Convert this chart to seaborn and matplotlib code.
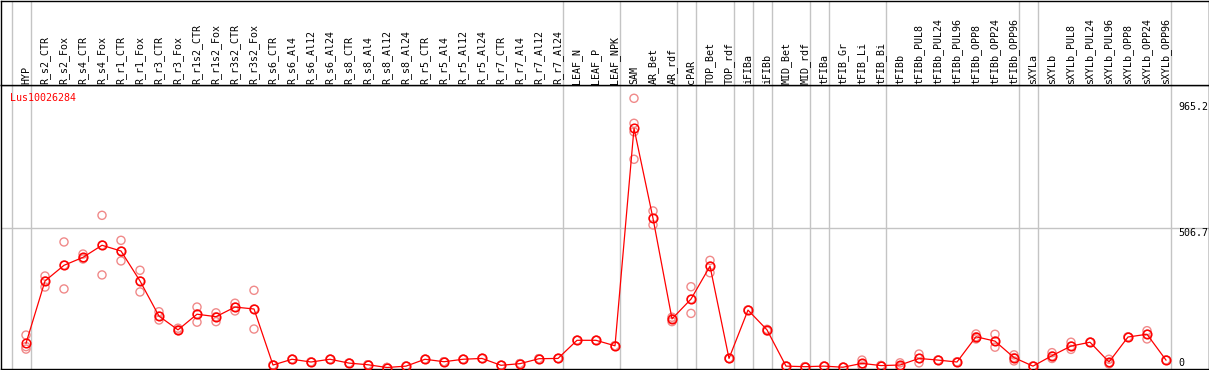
import matplotlib
matplotlib.use("Agg")
import matplotlib.pyplot as plt
import seaborn as sns
import numpy as np
import pandas as pd
from matplotlib.lines import Line2D

gene = "Lus10026284"

samples = ["HYP", "R_s2_CTR", "R_s2_Fox", "R_s4_CTR", "R_s4_Fox", "R_r1_CTR", "R_r1_Fox",
           "R_r3_CTR", "R_r3_Fox", "R_r1s2_CTR", "R_r1s2_Fox", "R_r3s2_CTR", "R_r3s2_Fox",
           "R_s6_CTR", "R_s6_Al4", "R_s6_Al12", "R_s6_Al24", "R_s8_CTR", "R_s8_Al4", "R_s8_Al12",
           "R_s8_Al24", "R_r5_CTR", "R_r5_Al4", "R_r5_Al12", "R_r5_Al24", "R_r7_CTR", "R_r7_Al4",
           "R_r7_Al12", "R_r7_Al24", "LEAF_N", "LEAF_P", "LEAF_NPK", "SAM", "AR_Bet", "AR_rdf",
           "cPAR", "TOP_Bet", "TOP_rdf", "iFIBa", "iFIBb", "MID_Bet", "MID_rdf", "tFIBa",
           "tFIB_Gr", "tFIB_Li", "tFIB_Bi", "tFIBb", "tFIBb_PUL8", "tFIBb_PUL24", "tFIBb_PUL96",
           "tFIBb_OPP8", "tFIBb_OPP24", "tFIBb_OPP96", "sXYLa", "sXYLb", "sXYLb_PUL8",
           "sXYLb_PUL24", "sXYLb_PUL96", "sXYLb_OPP8", "sXYLb_OPP24", "sXYLb_OPP96"]

means = [88, 315, 372, 401, 445, 424, 315, 187, 137, 194, 185, 220, 213,
         9, 30, 20, 30, 16, 10, 0, 5, 30, 21, 30, 33, 8, 14, 32, 33,
         99, 99, 79, 871, 543, 177, 249, 369, 33, 209, 137, 5, 3, 5,
         1, 15, 7, 9, 33, 27, 20, 112, 96, 36, 5, 43, 78, 92, 20, 111, 121, 27]

replicates = [
    [118, 76, 67], [333, 315, 293], [457, 373, 286], [413, 398, 395], [554, 446, 337],
    [463, 424, 388], [354, 315, 275], [203, 187, 173], [143, 137, 134], [220, 195, 165],
    [199, 185, 167], [234, 220, 206], [281, 213, 140],
    [9, 9, 9], [30, 30, 30], [20, 20, 20], [30, 30, 30], [16, 16, 16], [10, 10, 10],
    [0, 0, 0], [5, 5, 5], [30, 30, 30], [21, 21, 21], [30, 30, 30], [33, 33, 33],
    [8, 8, 8], [14, 14, 14], [32, 32, 32], [33, 33, 33],
    [99, 99, 99], [99, 99, 99], [79, 79, 79],
    [980, 889, 858, 758], [570, 543, 519], [183, 177, 167], [294, 249, 197],
    [390, 369, 345], [33, 33, 33], [209, 209, 209], [139, 137, 133], [5, 5, 5], [3, 3, 3],
    [5, 5, 5], [1, 1, 1], [27, 13, 5], [7, 7, 7], [17, 5, 2], [49, 33, 17], [27, 27, 27],
    [20, 20, 20], [122, 112, 104], [121, 96, 74], [46, 36, 24], [5, 5, 5], [54, 42, 33],
    [92, 78, 66], [92, 92, 92], [30, 18, 13], [111, 111, 111], [134, 121, 104], [27, 27, 27],
]

ytick_values = [965.2, 506.7, 0]
ytick_labels = ["965.2", "506.7", "0"]
separators_after = [-1, 0, 28, 31, 34, 35, 37, 38, 39, 41, 42, 45, 52, 53, 60]

W, H = 1209, 370
fig = plt.figure(figsize=(W / 100, H / 100), dpi=100)
fig.patch.set_facecolor("white")

font = "DejaVu Sans Mono"
fs = 7.2
grey = "#c4c4c4"

# pixel geometry
left_px, right_px = 0.5, 1208.5
top_plot, bot_plot = 85, 368.5
x0_px, dx_px = 26, 19
y0_px, k = 367.5, 0.2747

ax = fig.add_axes([left_px / W, (H - bot_plot) / H, (right_px - left_px) / W, (bot_plot - top_plot) / H])
axt = fig.add_axes([left_px / W, (H - top_plot) / H, (right_px - left_px) / W, (top_plot - 0.5) / H])

xlim = ((left_px - x0_px) / dx_px, (right_px - x0_px) / dx_px)
ylim = ((y0_px - bot_plot) / k, (y0_px - top_plot) / k)
for a in (ax, axt):
    a.set_xlim(*xlim)
    a.set_xticks([])
    a.set_yticks([])
    a.set_facecolor("white")
    for s in a.spines.values():
        s.set_color("black")
        s.set_linewidth(1.0)
ax.set_ylim(*ylim)
axt.set_ylim(0, 1)

# separators
for sidx in separators_after:
    for a in (ax, axt):
        a.axvline(sidx + 0.25, color=grey, lw=1.0, zorder=0)
ax.axhline(506.7, color=grey, lw=1.0, zorder=0)

# replicate points
rep_x, rep_y = [], []
for i, reps in enumerate(replicates):
    for v in reps:
        rep_x.append(i)
        rep_y.append(v)
rep_df = pd.DataFrame({"x": rep_x, "y": rep_y})
sns.scatterplot(data=rep_df, x="x", y="y", ax=ax, marker="o", s=34,
                facecolor="none", edgecolor="#f08a8a", linewidth=1.0, zorder=2, legend=False)

# mean line
mean_df = pd.DataFrame({"x": np.arange(len(samples)), "y": means})
sns.lineplot(data=mean_df, x="x", y="y", ax=ax, color="red", lw=0.9, marker="o",
             markersize=6.2, markerfacecolor="none", markeredgecolor="red",
             markeredgewidth=1.1, zorder=3, legend=False)
ax.set_xlabel("")
ax.set_ylabel("")
ax.set_xlim(*xlim)
ax.set_ylim(*ylim)

# sample labels
for i, name in enumerate(samples):
    axt.text(i, 1.5 / 85, name, rotation=90, ha="center", va="bottom",
             fontsize=fs, family=font, color="black")

# gene label
ax.text((10 - x0_px) / dx_px, 1 - (93 - top_plot) / (bot_plot - top_plot), gene,
        transform=ax.get_xaxis_transform(), ha="left", va="top",
        fontsize=fs, family=font, color="red")

# value labels
for v, lab in zip(ytick_values, ytick_labels):
    yy = v if v > 20 else (y0_px - 358) / k
    ax.text((1178.5 - x0_px) / dx_px, yy, lab, ha="left", va="top",
            fontsize=fs, family=font, color="black", clip_on=False)

fig.savefig("out.png", dpi=100)
